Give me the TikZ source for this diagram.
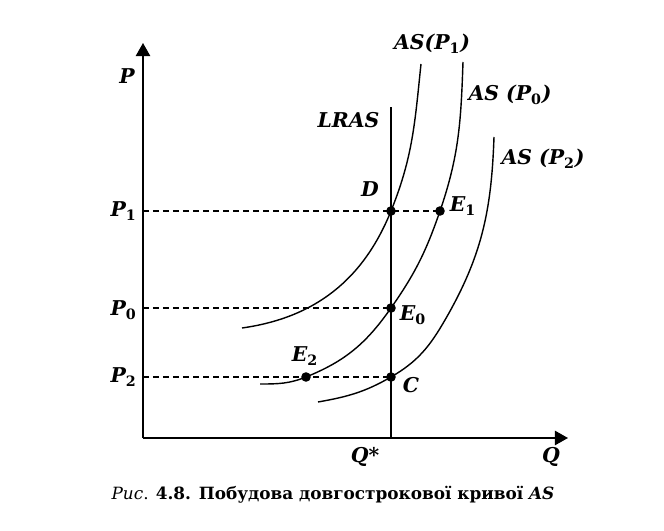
\documentclass[tikz,border=0pt]{standalone}
\usepackage{fontspec}
\setmainfont{DejaVu Serif}
\usetikzlibrary{arrows.meta,positioning}

\tikzset{
  axis/.style={line width=1.3pt,-{Triangle[length=0.33cm,width=0.36cm]}},
  curve/.style={line width=1pt},
  guide/.style={line width=0.9pt,dash pattern=on 0.15cm off 0.1cm},
  dot/.style={circle,fill=black,inner sep=0pt,minimum size=0.24cm},
  lbl/.style={font=\fontsize{14.5}{16}\selectfont\bfseries\itshape,inner sep=1pt},
}
\newcommand{\sub}[1]{\textsubscript{\upshape #1}}

\begin{document}
\begin{tikzpicture}
\useasboundingbox (-3.575,-2.3) rectangle (13.025,10.95);
% axes
\coordinate (O) at (0,0);
\coordinate (Ptop) at (0,9.875);
\coordinate (Qend) at (10.625,0);
\draw[axis] (O) -- (Ptop);
\draw[axis] (O) -- (Qend);
\node[lbl] (plab) at (-0.4,9.05) {P};
\node[lbl] (qlab) at (10.2,-0.475) {Q};

% points
\coordinate (P1) at (0,5.675);
\coordinate (P0) at (0,3.25);
\coordinate (P2) at (0,1.525);
\coordinate (D) at (6.2,5.675);
\coordinate (E1) at (7.425,5.675);
\coordinate (E0) at (6.2,3.25);
\coordinate (E2) at (4.075,1.525);
\coordinate (C) at (6.2,1.525);
\coordinate (Qs) at (6.2,0);
\coordinate (LRtop) at (6.2,8.275);

% LRAS
\draw[line width=1.2pt] (Qs) -- (LRtop);
\node[lbl,anchor=east] (lras) at (5.95,7.95) {LRAS};

% price levels
\draw[guide] (P1) -- (E1);
\draw[guide] (P0) -- (E0);
\draw[guide] (P2) -- (C);
\node[lbl,anchor=east] (p1lab) at (-0.12,5.675) {P\sub{1}};
\node[lbl,anchor=east] (p0lab) at (-0.12,3.2) {P\sub{0}};
\node[lbl,anchor=east] (p2lab) at (-0.12,1.525) {P\sub{2}};

% short-run supply curves
\draw[curve] (2.475,2.75) to[out=8,in=248] (D) to[out=68,in=-96] (6.95,9.35);
\draw[curve] (2.925,1.35) to[out=0,in=202] (E2) to[out=22,in=235] (E0)
  to[out=55,in=251] (E1) to[out=71,in=-92] (8.0,9.4);
\draw[curve] (4.375,0.9) to[out=10,in=210] (C) to[out=30,in=240] (7.55,2.95)
  to[out=60,in=-92] (8.775,7.525);
\node[lbl] (as1) at (7.225,9.85) {AS(P\sub{1})};
\node[lbl] (as0) at (9.175,8.575) {AS (P\sub{0})};
\node[lbl] (as2) at (10.0,6.975) {AS (P\sub{2})};

% dots
\foreach \p in {D,E1,E0,E2,C}
  \node[dot] at (\p) {};
\node[lbl] (dlab) at (5.675,6.225) {D};
\node[lbl] (e1lab) at (8.0,5.8) {E\sub{1}};
\node[lbl] (e0lab) at (6.75,3.075) {E\sub{0}};
\node[lbl] (e2lab) at (4.05,2.05) {E\sub{2}};
\node[lbl] (clab) at (6.7,1.325) {C};
\node[lbl] (qslab) at (5.55,-0.475) {Q*};

% caption
\node (cap) at (4.75,-1.425) {\fontsize{12}{14}\selectfont\textit{Рис}. \textbf{4.8. Побудова довгострокової кривої \textit{AS}}};
\end{tikzpicture}
\end{document}
